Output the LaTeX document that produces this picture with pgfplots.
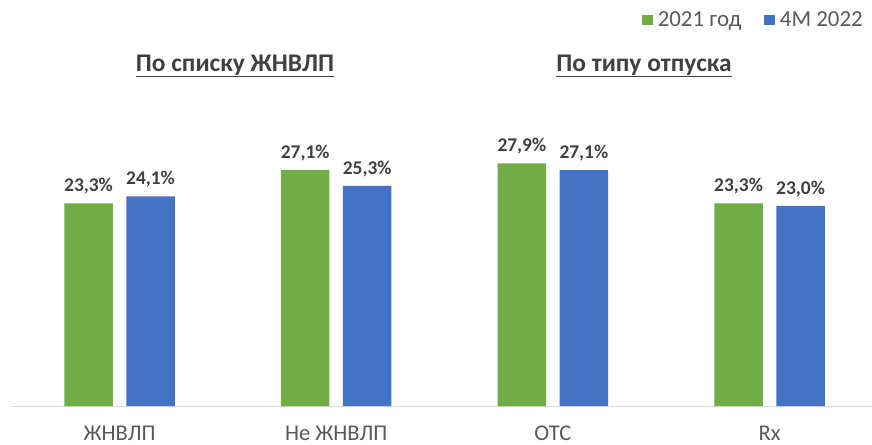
\documentclass[border=0pt]{standalone}
\usepackage{fontspec}
\setmainfont{Carlito}
\usepackage{pgfplots}
\pgfplotsset{compat=1.18}
\definecolor{cgreen}{HTML}{70AD47}
\definecolor{cblue}{HTML}{4472C4}
\definecolor{ctext}{HTML}{404040}
\definecolor{ctick}{HTML}{595959}
\definecolor{caxis}{HTML}{D9D9D9}
\begin{document}
\begin{tikzpicture}
\path[use as bounding box] (-11.2bp,-39bp) rectangle (860.8bp,406bp);
\begin{axis}[
  at={(0,0)}, anchor=south west,
  scale only axis, width=866.7bp, height=391.5bp,
  ymin=0, ymax=45, xmin=-0.5, xmax=3.5,
  axis x line*=bottom, axis y line=none,
  x axis line style={draw=caxis, line width=0.8pt, -},
  xtick={0,1,2,3},
  xticklabels={ЖНВЛП, Не ЖНВЛП, OTC, Rx},
  major tick length=0pt,
  xticklabel style={font=\fontsize{22.6}{26}\selectfont, text=ctick, anchor=base, yshift=-34.5bp, inner sep=0pt},
  ybar, bar width=48.5bp,
  /pgf/number format/assume math mode=true,
  nodes near coords={\pgfmathprintnumber[fixed, fixed zerofill, precision=1, use comma, assume math mode=true]{\pgfplotspointmeta}\%},
  every node near coord/.append style={font=\fontsize{19.5}{22}\selectfont\bfseries, text=ctext, anchor=base, yshift=11.5bp, inner sep=0pt},
  legend columns=2,
  legend style={draw=none, fill=none, at={(0.9886,0.986)}, anchor=east, font=\fontsize{23}{26}\selectfont, text=ctick, inner sep=0pt,
    /tikz/every even column/.append style={column sep=18bp},
    nodes={inner sep=0pt, inner xsep=5bp}},
  legend image code/.code={\fill[#1] (0bp,-5.3bp) rectangle (10.7bp,5.3bp);},
  clip=false,
]
\addplot[fill=cgreen, draw=none, bar shift=-31bp] coordinates {(0,23.3) (1,27.1) (2,27.9) (3,23.3)};
\addplot[fill=cblue, draw=none, bar shift=31bp] coordinates {(0,24.1) (1,25.3) (2,27.1) (3,23.0)};
\legend{2021 год, 4M 2022}
\node[font=\fontsize{25.5}{30}\selectfont\bfseries, text=ctext, anchor=base, inner sep=0pt] at (rel axis cs:0.2582,0.855) {\underline{По списку ЖНВЛП}};
\node[font=\fontsize{25.5}{30}\selectfont\bfseries, text=ctext, anchor=base, inner sep=0pt] at (rel axis cs:0.7302,0.855) {\underline{По типу отпуска}};
\end{axis}
\end{tikzpicture}
\end{document}
